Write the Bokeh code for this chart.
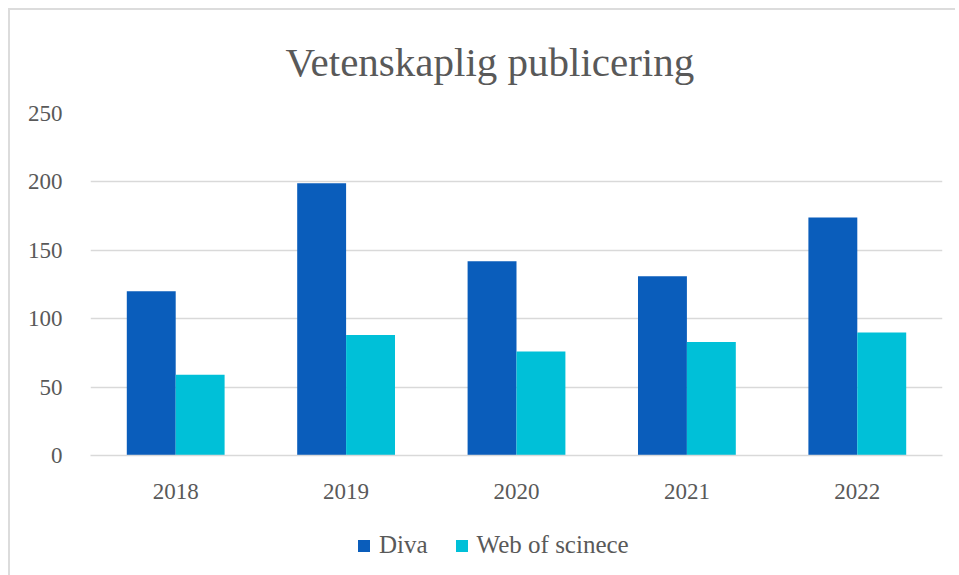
from bokeh.plotting import figure
from bokeh.models import ColumnDataSource, Legend, LegendItem, FactorRange, SingleIntervalTicker
from bokeh.layouts import column
from bokeh.transform import dodge
from bokeh.embed import file_html
from bokeh.resources import INLINE

years = ["2018", "2019", "2020", "2021", "2022"]
diva = [120, 199, 142, 131, 174]
wos = [59, 88, 76, 83, 90]
series_names = ["Diva", "Web of scinece"]
colors = ["#0A5DBB", "#00C0D8"]

FONT = "Liberation Serif"
TXT = "#595959"

src = ColumnDataSource(dict(year=years, diva=diva, wos=wos))

p = figure(x_range=FactorRange(*years), y_range=(0, 250), width=945, height=500,
           output_backend="svg", toolbar_location=None,
           title="Vetenskaplig publicering",
           min_border_left=80, min_border_right=13, min_border_top=103, min_border_bottom=55)

r1 = p.vbar(x=dodge("year", -0.1435, range=p.x_range), top="diva", width=0.287,
            source=src, color=colors[0], line_color=None)
r2 = p.vbar(x=dodge("year", 0.1435, range=p.x_range), top="wos", width=0.287,
            source=src, color=colors[1], line_color=None)

p.title.align = "left"
p.title.offset = 195
p.title.vertical_align = "top"
p.title.text_font = FONT
p.title.text_font_size = "41px"
p.title.text_font_style = "normal"
p.title.text_color = TXT
p.title.standoff = 54

p.outline_line_color = None
p.xgrid.grid_line_color = None
p.ygrid.grid_line_color = "#d9d9d9"
p.ygrid.grid_line_width = 1.3
p.yaxis.ticker = SingleIntervalTicker(interval=50)
p.yaxis.axis_line_color = None
p.yaxis.major_tick_line_color = None
p.yaxis.minor_tick_line_color = None
p.yaxis.major_label_standoff = 22
p.xaxis.axis_line_color = "#d9d9d9"
p.xaxis.axis_line_width = 1.3
p.xaxis.major_tick_line_color = None
p.xaxis.minor_tick_line_color = None
p.xaxis.major_label_standoff = 22
for ax in (p.xaxis, p.yaxis):
    ax.major_label_text_font = FONT
    ax.major_label_text_font_size = "23px"
    ax.major_label_text_color = TXT

# legend strip below the chart (its frame is aligned with the chart's frame)
lg = figure(width=945, height=65, x_range=(0, 1), y_range=(0, 1),
            output_backend="svg", toolbar_location=None,
            min_border_left=0, min_border_right=0, min_border_top=0, min_border_bottom=0)
lg.axis.visible = False
lg.grid.visible = False
lg.outline_line_color = None
offscreen = ColumnDataSource(dict(x=[-5], top=[-5]))
d1 = lg.vbar(x="x", top="top", bottom=-6, width=0.1, source=offscreen, color=colors[0], line_color=None)
d2 = lg.vbar(x="x", top="top", bottom=-6, width=0.1, source=offscreen, color=colors[1], line_color=None)
legend = Legend(items=[LegendItem(label=series_names[0], renderers=[d1]),
                       LegendItem(label=series_names[1], renderers=[d2])],
                orientation="horizontal", location=(266, 16),
                label_text_font=FONT, label_text_font_size="25px", label_text_color=TXT,
                glyph_width=15, glyph_height=15, spacing=26, label_standoff=8,
                border_line_color=None, background_fill_alpha=0, margin=0, padding=0)
lg.add_layout(legend, "center")

layout = column(p, lg, spacing=0)
layout.margin = (8, 0, 0, 8)
layout.styles = {"border-left": "2px solid #dcdcdc", "border-top": "2px solid #dcdcdc"}

open("out.html", "w").write(file_html(layout, INLINE))
